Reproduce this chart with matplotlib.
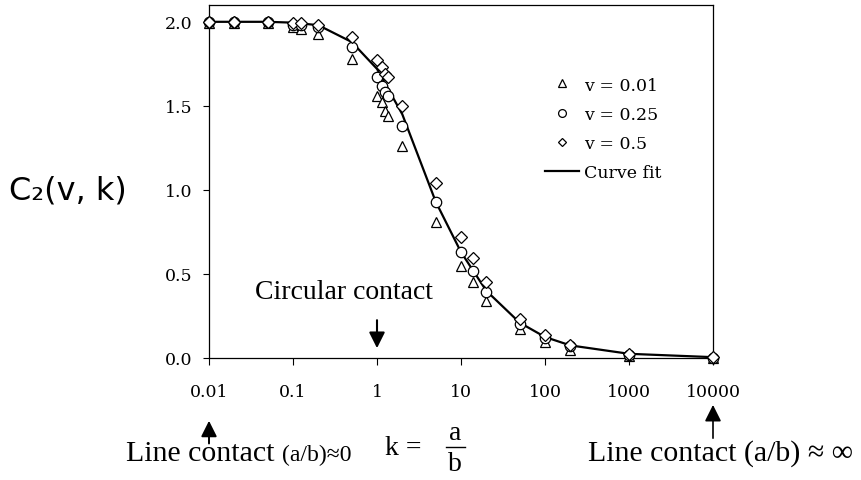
import matplotlib
matplotlib.use("Agg")
import matplotlib.pyplot as plt
from matplotlib.lines import Line2D

# aspect ratio k = a/b
k = [0.01, 0.02, 0.05, 0.1, 0.125, 0.2, 0.5, 1, 1.15, 1.25, 1.35, 2,
     5, 10, 14, 20, 50, 100, 200, 1000, 10000]
# C2 for each Poisson ratio
c2_v001 = [1.995, 1.99, 1.99, 1.97, 1.96, 1.93, 1.78, 1.56, 1.52, 1.47, 1.44, 1.26,
           0.81, 0.55, 0.45, 0.34, 0.17, 0.093, 0.05, 0.01, 0.0]
c2_v025 = [2.0, 2.0, 2.0, 1.98, 1.98, 1.97, 1.85, 1.67, 1.62, 1.585, 1.56, 1.38,
           0.93, 0.63, 0.52, 0.395, 0.20, 0.117, 0.07, 0.02, 0.002]
c2_v05 = [2.0, 2.0, 2.0, 1.99, 1.99, 1.98, 1.91, 1.77, 1.73, 1.69, 1.67, 1.50,
          1.04, 0.72, 0.595, 0.455, 0.23, 0.137, 0.077, 0.024, 0.003]

# curve fit
fit_k = [0.01, 0.02, 0.05, 0.1, 0.2, 0.5, 1, 2, 5, 10, 20, 50, 100, 200, 1000, 10000]
fit_c2 = [2.0, 2.0, 2.0, 1.995, 1.98, 1.88, 1.72, 1.45, 0.93, 0.63, 0.40, 0.21,
          0.125, 0.075, 0.025, 0.005]

xticks = [0.01, 0.1, 1, 10, 100, 1000, 10000]
xtick_labels = ["0.01", "0.1", "1", "10", "100", "1000", "10000"]
yticks = [0.0, 0.5, 1.0, 1.5, 2.0]

plt.rcParams['font.family'] = 'DejaVu Serif'

W, H = 861, 481
fig = plt.figure(figsize=(W / 100, H / 100), dpi=100)
ax = fig.add_axes([209 / W, 1 - 359 / H, 504 / W, 353 / H])

def fx(px):
    return px / W

def fy(py):
    return 1 - py / H

ax.plot(fit_k, fit_c2, color='black', lw=1.6, label='Curve fit', zorder=2, clip_on=False)
mk = dict(linestyle='none', mfc='white', mec='black', mew=0.9, zorder=3, clip_on=False)
ax.plot(k, c2_v001, marker='^', ms=7.5, label='v = 0.01', **mk)
ax.plot(k, c2_v025, marker='o', ms=7.5, label='v = 0.25', **mk)
ax.plot(k, c2_v05, marker='D', ms=6, label='v = 0.5', **mk)

ax.set_xscale('log')
ax.set_xlim(0.01, 10000)
ax.set_ylim(0, 2.1)
ax.set_xticks(xticks)
ax.set_xticklabels(xtick_labels)
ax.minorticks_off()
ax.set_yticks(yticks)
ax.set_yticklabels([f"{v:.1f}" for v in yticks])
ax.tick_params(axis='x', direction='out', length=5, width=0.8, pad=13, labelsize=12.5)
ax.tick_params(axis='y', direction='out', length=4, width=0.8, pad=8, labelsize=12.5)
for s in ax.spines.values():
    s.set_linewidth(0.9)

# legend: markers first, then the fitted line
h, l = ax.get_legend_handles_labels()
order = [1, 2, 3, 0]
ax.legend([h[i] for i in order], [l[i] for i in order], loc='upper left',
          bbox_to_anchor=(0.649, 0.822), frameon=False, fontsize=12.5,
          handlelength=2.0, handletextpad=0.25, labelspacing=0.7,
          borderpad=0, markerscale=0.75)

# y label in sans
fig.text(fx(68), fy(191), "C₂(v, k)", family='DejaVu Sans', fontsize=23,
         ha='center', va='center')

tr = ax.get_xaxis_transform()
serif = 'Liberation Serif'

# circular contact
ax.annotate("", xy=(1, 0.02), xytext=(1, 0.115), xycoords=tr, textcoords=tr,
            arrowprops=dict(arrowstyle='-|>', color='black', lw=1.5,
                            mutation_scale=24))
fig.text(fx(433), fy(299), "Circular contact", family=serif, fontsize=20,
         ha='right', va='baseline')

# line contact a/b -> 0
ax.annotate("", xy=(0.01, -0.17), xytext=(0.01, -0.25), xycoords=tr, textcoords=tr,
            annotation_clip=False,
            arrowprops=dict(arrowstyle='-|>', color='black', lw=1.4,
                            mutation_scale=24))
fig.text(fx(126), fy(461), "Line contact", family=serif, fontsize=21.5,
         ha='left', va='baseline')
fig.text(fx(282), fy(461), "(a/b)≈0", family=serif, fontsize=17,
         ha='left', va='baseline')

# k = a/b
fig.text(fx(385), fy(455), "k =", family=serif, fontsize=20,
         ha='left', va='baseline')
fig.text(fx(455), fy(440), "a", family=serif, fontsize=20,
         ha='center', va='baseline')
fig.text(fx(455), fy(471), "b", family=serif, fontsize=20,
         ha='center', va='baseline')
fig.add_artist(Line2D([fx(446), fx(465)], [fy(448), fy(448)], color='black', lw=1.0))

# line contact a/b -> infinity
ax.annotate("", xy=(10000, -0.125), xytext=(10000, -0.235), xycoords=tr, textcoords=tr,
            annotation_clip=False,
            arrowprops=dict(arrowstyle='-|>', color='black', lw=1.2,
                            mutation_scale=25))
fig.text(fx(853), fy(461), "Line contact (a/b) ≈ ∞", family=serif,
         fontsize=21.5, ha='right', va='baseline')

fig.savefig("out.png", dpi=100)
